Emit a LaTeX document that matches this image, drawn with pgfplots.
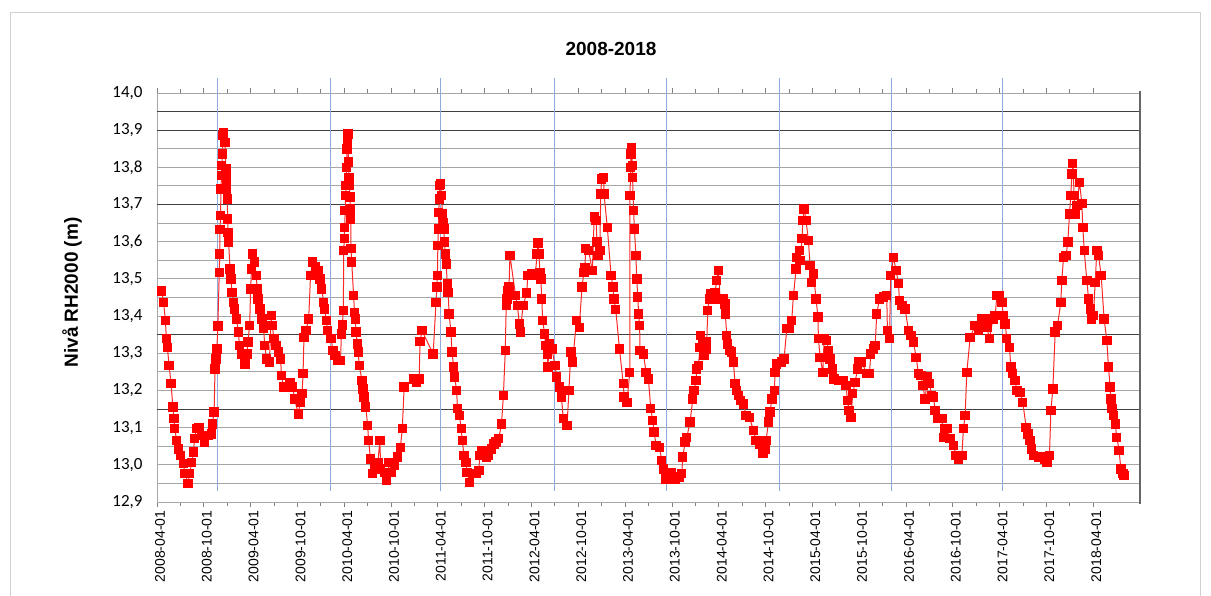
\documentclass[border=0pt]{standalone}
\usepackage{pgfplots}
\pgfplotsset{compat=1.18}
\usepackage{pgfplotstable}
\usepackage{fontspec}
\setmainfont{Liberation Sans}
\newfontfamily\carlito{Carlito}
\definecolor{lgrid}{HTML}{A6A6A6}
\definecolor{dgrid}{HTML}{404040}
\definecolor{vblue}{HTML}{8EA9DB}
\definecolor{framec}{HTML}{D0D0D0}
\pgfplotstableread{
x y
2008.30 13.467
2008.32 13.437
2008.34 13.388
2008.35 13.339
2008.36 13.316
2008.38 13.267
2008.40 13.218
2008.42 13.155
2008.43 13.124
2008.44 13.097
2008.46 13.065
2008.48 13.043
2008.50 13.025
2008.53 13.003
2008.55 12.976
2008.58 12.949
2008.60 12.976
2008.62 13.007
2008.64 13.034
2008.65 13.070
2008.67 13.097
2008.70 13.101
2008.73 13.079
2008.76 13.061
2008.80 13.079
2008.83 13.083
2008.84 13.110
2008.86 13.142
2008.87 13.258
2008.88 13.285
2008.89 13.312
2008.90 13.373
2008.915 13.518
2008.92 13.567
2008.922 13.633
2008.93 13.670
2008.932 13.742
2008.94 13.778
2008.942 13.805
2008.95 13.836
2008.955 13.885
2008.96 13.894
2008.975 13.867
2008.985 13.796
2008.99 13.769
2008.995 13.742
2009.00 13.715
2009.005 13.661
2009.01 13.625
2009.015 13.599
2009.03 13.527
2009.04 13.500
2009.05 13.464
2009.07 13.437
2009.08 13.419
2009.10 13.392
2009.12 13.357
2009.13 13.321
2009.15 13.298
2009.19 13.271
2009.21 13.298
2009.22 13.330
2009.24 13.375
2009.25 13.473
2009.26 13.527
2009.27 13.567
2009.29 13.545
2009.31 13.509
2009.32 13.473
2009.33 13.446
2009.35 13.419
2009.37 13.392
2009.39 13.366
2009.40 13.321
2009.42 13.285
2009.45 13.276
2009.47 13.401
2009.48 13.375
2009.50 13.339
2009.52 13.321
2009.55 13.303
2009.57 13.285
2009.58 13.240
2009.60 13.209
2009.63 13.209
2009.67 13.222
2009.70 13.209
2009.72 13.177
2009.76 13.137
2009.78 13.168
2009.80 13.191
2009.81 13.245
2009.82 13.343
2009.84 13.361
2009.87 13.392
2009.89 13.509
2009.91 13.545
2009.94 13.532
2009.97 13.522
2009.99 13.500
2010.01 13.473
2010.03 13.437
2010.04 13.419
2010.06 13.388
2010.07 13.361
2010.11 13.339
2010.13 13.307
2010.15 13.294
2010.18 13.280
2010.21 13.280
2010.22 13.352
2010.23 13.376
2010.24 13.415
2010.245 13.576
2010.25 13.608
2010.255 13.639
2010.26 13.684
2010.265 13.724
2010.27 13.751
2010.275 13.800
2010.28 13.849
2010.285 13.876
2010.29 13.890
2010.295 13.814
2010.30 13.773
2010.305 13.751
2010.31 13.720
2010.315 13.688
2010.32 13.661
2010.322 13.581
2010.33 13.545
2010.35 13.455
2010.36 13.410
2010.37 13.392
2010.375 13.357
2010.39 13.325
2010.40 13.303
2010.41 13.267
2010.44 13.227
2010.45 13.204
2010.46 13.182
2010.48 13.155
2010.50 13.106
2010.51 13.065
2010.53 13.016
2010.55 12.976
2010.58 12.998
2010.61 13.007
2010.63 13.065
2010.64 12.989
2010.68 12.980
2010.70 12.958
2010.73 13.007
2010.75 12.980
2010.79 12.998
2010.82 13.021
2010.85 13.047
2010.87 13.097
2010.89 13.209
2010.99 13.231
2011.02 13.222
2011.05 13.231
2011.06 13.332
2011.08 13.361
2011.20 13.298
2011.23 13.437
2011.24 13.478
2011.245 13.509
2011.25 13.590
2011.255 13.634
2011.26 13.679
2011.265 13.715
2011.27 13.751
2011.28 13.755
2011.29 13.724
2011.30 13.675
2011.31 13.652
2011.315 13.634
2011.32 13.599
2011.33 13.567
2011.34 13.540
2011.35 13.487
2011.36 13.464
2011.37 13.406
2011.39 13.357
2011.40 13.303
2011.42 13.263
2011.43 13.236
2011.45 13.200
2011.46 13.151
2011.48 13.133
2011.50 13.097
2011.51 13.065
2011.53 13.025
2011.55 13.007
2011.56 12.980
2011.59 12.953
2011.63 12.976
2011.66 12.976
2011.69 12.985
2011.695 13.025
2011.72 13.039
2011.75 13.034
2011.77 13.021
2011.79 13.025
2011.82 13.043
2011.85 13.056
2011.87 13.061
2011.90 13.070
2011.93 13.110
2011.95 13.186
2011.97 13.307
2011.98 13.428
2011.99 13.446
2012.00 13.469
2012.01 13.478
2012.02 13.563
2012.08 13.455
2012.10 13.428
2012.12 13.379
2012.13 13.357
2012.16 13.428
2012.20 13.462
2012.21 13.509
2012.25 13.513
2012.29 13.509
2012.31 13.567
2012.32 13.597
2012.33 13.567
2012.34 13.518
2012.35 13.500
2012.36 13.446
2012.37 13.388
2012.39 13.352
2012.40 13.321
2012.42 13.298
2012.425 13.263
2012.44 13.325
2012.47 13.312
2012.50 13.267
2012.52 13.236
2012.55 13.209
2012.57 13.182
2012.59 13.124
2012.63 13.106
2012.65 13.200
2012.67 13.303
2012.69 13.276
2012.73 13.388
2012.76 13.370
2012.79 13.478
2012.81 13.518
2012.82 13.531
2012.83 13.581
2012.86 13.576
2012.90 13.522
2012.92 13.666
2012.94 13.657
2012.95 13.599
2012.96 13.563
2012.98 13.576
2012.99 13.728
2013.00 13.769
2013.02 13.773
2013.025 13.728
2013.06 13.639
2013.10 13.509
2013.12 13.478
2013.13 13.446
2013.15 13.418
2013.19 13.312
2013.23 13.218
2013.24 13.182
2013.27 13.168
2013.30 13.249
2013.302 13.724
2013.31 13.800
2013.312 13.836
2013.32 13.854
2013.328 13.805
2013.33 13.773
2013.34 13.684
2013.35 13.634
2013.365 13.563
2013.375 13.500
2013.385 13.451
2013.395 13.406
2013.405 13.375
2013.41 13.307
2013.446 13.298
2013.474 13.249
2013.499 13.231
2013.524 13.151
2013.545 13.119
2013.560 13.088
2013.581 13.052
2013.617 13.047
2013.641 13.012
2013.659 12.989
2013.688 12.962
2013.713 12.976
2013.748 12.980
2013.784 12.962
2013.830 12.967
2013.855 12.976
2013.866 13.021
2013.891 13.061
2013.909 13.074
2013.944 13.115
2013.973 13.177
2013.987 13.200
2014.008 13.227
2014.015 13.258
2014.033 13.267
2014.051 13.316
2014.058 13.348
2014.080 13.330
2014.094 13.294
2014.115 13.312
2014.122 13.330
2014.133 13.415
2014.151 13.446
2014.165 13.460
2014.193 13.446
2014.211 13.464
2014.229 13.496
2014.247 13.522
2014.265 13.446
2014.300 13.446
2014.318 13.433
2014.320 13.406
2014.336 13.348
2014.343 13.325
2014.364 13.307
2014.389 13.303
2014.407 13.276
2014.425 13.218
2014.443 13.200
2014.461 13.186
2014.485 13.173
2014.514 13.164
2014.542 13.133
2014.578 13.128
2014.621 13.092
2014.649 13.065
2014.685 13.056
2014.721 13.030
2014.746 13.043
2014.756 13.065
2014.781 13.115
2014.799 13.142
2014.817 13.177
2014.845 13.200
2014.852 13.249
2014.870 13.271
2014.923 13.276
2014.948 13.285
2014.977 13.366
2015.005 13.366
2015.030 13.388
2015.048 13.455
2015.077 13.527
2015.084 13.558
2015.112 13.576
2015.119 13.549
2015.140 13.608
2015.148 13.657
2015.162 13.688
2015.183 13.657
2015.208 13.603
2015.226 13.536
2015.244 13.491
2015.262 13.513
2015.290 13.446
2015.310 13.397
2015.315 13.339
2015.333 13.289
2015.362 13.249
2015.376 13.339
2015.404 13.334
2015.422 13.307
2015.440 13.285
2015.468 13.258
2015.483 13.231
2015.529 13.227
2015.582 13.227
2015.611 13.213
2015.625 13.173
2015.643 13.146
2015.661 13.128
2015.682 13.191
2015.707 13.222
2015.732 13.258
2015.743 13.276
2015.778 13.276
2015.832 13.245
2015.860 13.245
2015.874 13.298
2015.903 13.312
2015.921 13.321
2015.938 13.406
2015.967 13.446
2016.010 13.451
2016.045 13.455
2016.052 13.361
2016.074 13.339
2016.088 13.509
2016.117 13.558
2016.145 13.522
2016.170 13.487
2016.181 13.442
2016.206 13.428
2016.241 13.419
2016.277 13.361
2016.302 13.348
2016.330 13.330
2016.359 13.289
2016.384 13.245
2016.409 13.240
2016.430 13.213
2016.455 13.177
2016.480 13.236
2016.501 13.218
2016.526 13.186
2016.544 13.182
2016.562 13.146
2016.587 13.124
2016.633 13.124
2016.651 13.074
2016.669 13.097
2016.693 13.097
2016.722 13.070
2016.758 13.052
2016.786 13.025
2016.811 13.016
2016.847 13.025
2016.864 13.097
2016.882 13.133
2016.900 13.249
2016.936 13.343
2016.989 13.375
2017.025 13.361
2017.060 13.392
2017.078 13.370
2017.096 13.392
2017.114 13.370
2017.142 13.339
2017.178 13.392
2017.203 13.401
2017.221 13.455
2017.249 13.455
2017.274 13.437
2017.292 13.401
2017.310 13.379
2017.327 13.339
2017.356 13.316
2017.370 13.263
2017.391 13.245
2017.416 13.227
2017.434 13.200
2017.470 13.195
2017.498 13.168
2017.534 13.101
2017.552 13.083
2017.577 13.065
2017.594 13.043
2017.612 13.025
2017.666 13.021
2017.701 13.021
2017.737 13.016
2017.755 13.007
2017.783 13.025
2017.798 13.146
2017.819 13.204
2017.844 13.357
2017.869 13.375
2017.904 13.437
2017.915 13.496
2017.933 13.558
2017.961 13.563
2017.979 13.599
2017.997 13.675
2018.011 13.724
2018.022 13.782
2018.032 13.811
2018.047 13.724
2018.057 13.675
2018.075 13.697
2018.104 13.760
2018.129 13.702
2018.139 13.639
2018.154 13.576
2018.182 13.496
2018.200 13.446
2018.218 13.419
2018.235 13.392
2018.253 13.401
2018.271 13.491
2018.289 13.576
2018.307 13.563
2018.335 13.509
2018.367 13.392
2018.396 13.334
2018.413 13.263
2018.431 13.209
2018.438 13.177
2018.449 13.151
2018.467 13.133
2018.485 13.110
2018.502 13.074
2018.527 13.039
2018.545 12.989
2018.567 12.976
2018.581 12.971
}\levels
\begin{document}
\begin{tikzpicture}[x=1pt,y=1pt]
\useasboundingbox (0,0) rectangle (1211,596);
\draw[framec, line width=0.8pt] (10,0) -- (10,584) -- (1200,584) -- (1200,0);
\node[font=\bfseries\fontsize{19}{22}\selectfont] at (611,547.5) {2008-2018};
\node[rotate=90, font=\bfseries\fontsize{19}{22}\selectfont] at (72,303.5) {Nivå RH2000 (m)};
\begin{axis}[
  at={(157pt,94pt)}, anchor=south west,
  scale only axis, width=983pt, height=409pt,
  xmin=2008.25, xmax=2018.75, ymin=12.9, ymax=14.0,
  clip=false,
  axis line style={draw=lgrid, line width=0.9pt},
  xtick={2008.25,2008.75,2009.25,2009.75,2010.25,2010.75,2011.25,2011.75,2012.25,2012.75,2013.25,2013.75,2014.25,2014.75,2015.25,2015.75,2016.25,2016.75,2017.25,2017.75,2018.25},
  xticklabels={2008-04-01,2008-10-01,2009-04-01,2009-10-01,2010-04-01,2010-10-01,2011-04-01,2011-10-01,2012-04-01,2012-10-01,2013-04-01,2013-10-01,2014-04-01,2014-10-01,2015-04-01,2015-10-01,2016-04-01,2016-10-01,2017-04-01,2017-10-01,2018-04-01},
  minor x tick num=1,
  tick align=outside,
  major tick length=5pt, minor tick length=4pt,
  xtick style={draw=gray, line width=0.8pt},
  xticklabel style={rotate=90, anchor=east, font=\fontsize{14}{16}\selectfont, xshift=0pt, yshift=-3pt},
  ytick={12.9,13.0,13.1,13.2,13.3,13.4,13.5,13.6,13.7,13.8,13.9,14.0},
  ytick style={draw=none},
  yticklabel style={font=\carlito\fontsize{17}{20}\selectfont, xshift=-6pt},
  /pgf/number format/assume math mode=true,
  /pgf/number format/.cd, use comma, fixed, fixed zerofill, precision=1,
]
\pgfplotsinvokeforeach{12.95,13.00,13.05,13.10,13.20,13.25,13.30,13.40,13.45,13.50,13.55,13.60,13.65,13.75,13.80,13.85,14.00}{
  \draw[lgrid, line width=0.9pt] (axis cs:2008.25,#1) -- (axis cs:2018.75,#1);
}
\pgfplotsinvokeforeach{13.15,13.35,13.70,13.90,13.95}{
  \draw[dgrid, line width=0.9pt] (axis cs:2008.25,#1) -- (axis cs:2018.75,#1);
}
\pgfplotsinvokeforeach{2008.898,2010.098,2011.281,2012.491,2013.688,2014.895,2016.099,2017.285}{
  \draw[vblue, line width=0.9pt] (axis cs:#1,12.93) -- (axis cs:#1,14.04);
}
\draw[dgrid!80, line width=1.3pt] (axis cs:2018.75,14.005) -- (axis cs:2018.75,12.895);
\addplot[color=red!85!white, line width=1pt, mark=square*, mark size=4.2pt,
  mark options={solid, fill=red, draw=red}] table[x=x, y=y] {\levels};
\end{axis}
\end{tikzpicture}
\end{document}
